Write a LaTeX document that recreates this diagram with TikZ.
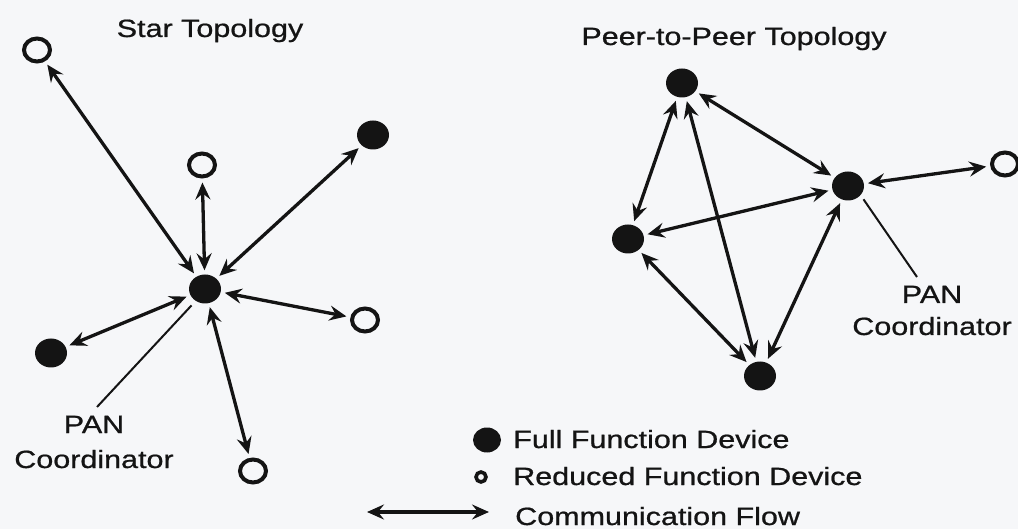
\documentclass[tikz,border=0pt]{standalone}
\usepackage{fontspec}
\setmainfont{Liberation Sans}
\newfontfamily\labelfont[FakeBold=0.7]{Liberation Sans}
\usetikzlibrary{arrows.meta,shapes.geometric}

\definecolor{paper}{HTML}{F6F7F9}
\definecolor{ink}{HTML}{141414}

\tikzset{
  ffd/.style={ellipse, fill=ink, minimum width=32pt, minimum height=29pt, inner sep=0pt},
  rfd/.style={ellipse, draw=ink, line width=4pt, fill=paper, minimum width=26pt, minimum height=23pt, inner sep=0pt},
  flow/.style={{Stealth[length=17pt,width=15pt,inset=6pt]}-{Stealth[length=17pt,width=15pt,inset=6pt]},
               draw=ink, line width=3.3pt, shorten >=4pt, shorten <=4pt},
  pointer/.style={draw=ink, line width=2pt},
  lbl/.style={font=\labelfont\fontsize{25}{31}\selectfont, xscale=1.22, text=ink, inner sep=0pt},
  title/.style={lbl, anchor=base},
}

\begin{document}
\begin{tikzpicture}[x=1pt, y=-1pt]
  % page
  \fill[paper] (0,0) rectangle (1018,529);
  \useasboundingbox (0,0) rectangle (1018,529);

  % ---------- star topology ----------
  \node[title] (starT) at (210,37) {Star Topology};
  \node[ffd] (hub) at (205,289) {};
  \node[rfd] (s1) at (37,50) {};
  \node[rfd] (s2) at (202,165) {};
  \node[ffd] (s3) at (373,135) {};
  \node[ffd] (s4) at (51,353) {};
  \node[rfd] (s5) at (365,320) {};
  \node[rfd] (s6) at (253,471) {};
  \foreach \n in {s1,s2,s3,s4,s5,s6} \draw[flow] (hub) -- (\n);

  \node[lbl, anchor=base] (panS) at (94,433) {PAN};
  \node[lbl, anchor=base] (coordS) at (94,468) {Coordinator};
  \coordinate (panSend) at (97,407);
  \draw[pointer, shorten <=6pt] (hub.-128) -- (panSend);

  % ---------- peer-to-peer topology ----------
  \node[title] (p2pT) at (734,45) {Peer-to-Peer Topology};
  \node[ffd] (pa) at (682,83) {};
  \node[ffd] (pc) at (848,186) {};
  \node[ffd] (pl) at (628,239) {};
  \node[ffd] (pb) at (760,376) {};
  \node[rfd] (po) at (1005,164) {};
  \draw[flow] (pa) -- (pc);
  \draw[flow] (pa) -- (pl);
  \draw[flow] (pa) -- (pb);
  \draw[flow] (pl) -- (pc);
  \draw[flow] (pl) -- (pb);
  \draw[flow] (pc) -- (pb);
  \draw[flow] (pc) -- (po);

  \node[lbl, anchor=base] (panP) at (932,303) {PAN};
  \node[lbl, anchor=base] (coordP) at (932,335) {Coordinator};
  \coordinate (panPend) at (917,277);
  \draw[pointer, shorten <=5pt] (pc.-36) -- (panPend);

  % ---------- legend ----------
  \node[ellipse, fill=ink, minimum width=28pt, minimum height=25pt, inner sep=0pt] (kf) at (487,440) {};
  \node[lbl, anchor=base west] (kfT) at (513,448) {Full Function Device};
  \node[ellipse, draw=ink, line width=3.6pt, fill=paper, minimum width=10pt, minimum height=10pt, inner sep=0pt] (kr) at (481,477) {};
  \node[lbl, anchor=base west] (krT) at (513,485) {Reduced Function Device};
  \coordinate (ka) at (367,512);
  \coordinate (kb) at (489,512);
  \draw[flow, shorten >=0pt, shorten <=0pt] (ka) -- (kb);
  \node[lbl, anchor=base west] (kaT) at (515,525) {Communication Flow};
\end{tikzpicture}
\end{document}
